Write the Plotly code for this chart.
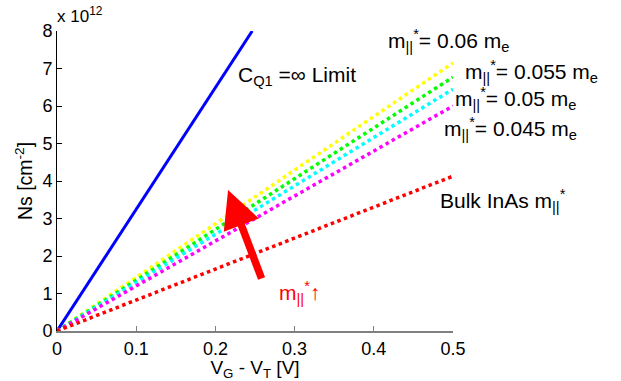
import plotly.graph_objects as go

# Data (Ns in units of 1e12 cm^-2)
vg_blue = [0.0, 0.2465]
ns_blue = [0.0, 8.0]

vg = [0.0, 0.5]
ns_006 = [0.0, 7.15]
ns_0055 = [0.0, 6.77]
ns_005 = [0.0, 6.45]
ns_0045 = [0.0, 6.0]
ns_bulk = [0.0, 4.13]

x_ticks = [0, 0.1, 0.2, 0.3, 0.4, 0.5]
x_tick_text = ["0", "0.1", "0.2", "0.3", "0.4", "0.5"]
y_ticks = [0, 1, 2, 3, 4, 5, 6, 7, 8]

FONT = "Liberation Sans, Arial, Helvetica, sans-serif"

fig = go.Figure()
fig.add_trace(go.Scatter(x=vg_blue, y=ns_blue, mode="lines",
                         line=dict(color="#0000ff", width=3)))
for vals, col in [(ns_006, "#ffff00"), (ns_0055, "#00ff00"),
                  (ns_005, "#00ffff"), (ns_0045, "#ff00ff"),
                  (ns_bulk, "#ff0000")]:
    fig.add_trace(go.Scatter(x=vg, y=vals, mode="lines",
                             line=dict(color=col, width=3.5, dash="dot")))

def ann(x, y, text, color="black", size=21, xanchor="left"):
    fig.add_annotation(x=x, y=y, xref="paper", yref="paper", text=text,
                       showarrow=False, xanchor=xanchor, yanchor="middle",
                       font=dict(family=FONT, size=size, color=color))

L, R, T, B = 57, 453, 31, 331
def px(xp):
    return (xp - L) / (R - L)
def py(yp):
    return (B - yp) / (B - T)

ann(px(236), py(76), "C<sub>Q1</sub> =∞ Limit")
ann(px(386), py(40), "m<sub>||</sub><sup>*</sup>= 0.06 m<sub>e</sub>")
ann(px(463), py(71), "m<sub>||</sub><sup>*</sup>= 0.055 m<sub>e</sub>")
ann(px(453), py(98), "m<sub>||</sub><sup>*</sup>= 0.05 m<sub>e</sub>")
ann(px(442), py(128), "m<sub>||</sub><sup>*</sup>= 0.045 m<sub>e</sub>")
ann(px(438), py(200), "Bulk InAs m<sub>||</sub><sup>*</sup>")
ann(px(277), py(292), "m<sub>||</sub><sup>*</sup>↑", color="#ff0000")
ann(px(55), py(15), "x 10<sup>12</sup>", size=17)

# red arrow
fig.add_annotation(x=0.216, y=3.76, ax=0.259, ay=1.36, xref="x", yref="y",
                   axref="x", ayref="y", text="", showarrow=True,
                   arrowhead=2, arrowsize=1.0, arrowwidth=7.5,
                   arrowcolor="#ff0000")

fig.update_layout(
    width=621, height=381,
    margin=dict(l=L, r=621 - R, t=T, b=381 - B, autoexpand=False),
    plot_bgcolor="white", paper_bgcolor="white",
    showlegend=False,
    font=dict(family=FONT, size=18, color="black"),
    xaxis=dict(range=[0, 0.5], tickvals=x_ticks, ticktext=x_tick_text,
               showgrid=False, zeroline=False, showline=True,
               linecolor="#808080", linewidth=2, ticks="inside",
               ticklen=5, tickcolor="#808080", automargin=False,
               title=dict(text="V<sub>G</sub> - V<sub>T</sub> [V]",
                          font=dict(size=19), standoff=2)),
    yaxis=dict(range=[0, 8], tickvals=y_ticks, showgrid=False,
               zeroline=False, showline=True, linecolor="black",
               linewidth=1, ticks="inside", ticklen=5, tickcolor="black",
               automargin=False,
               title=dict(text="Ns [cm<sup>-2</sup>]", font=dict(size=19.5),
                          standoff=4)),
)

fig.write_html("out.html")
